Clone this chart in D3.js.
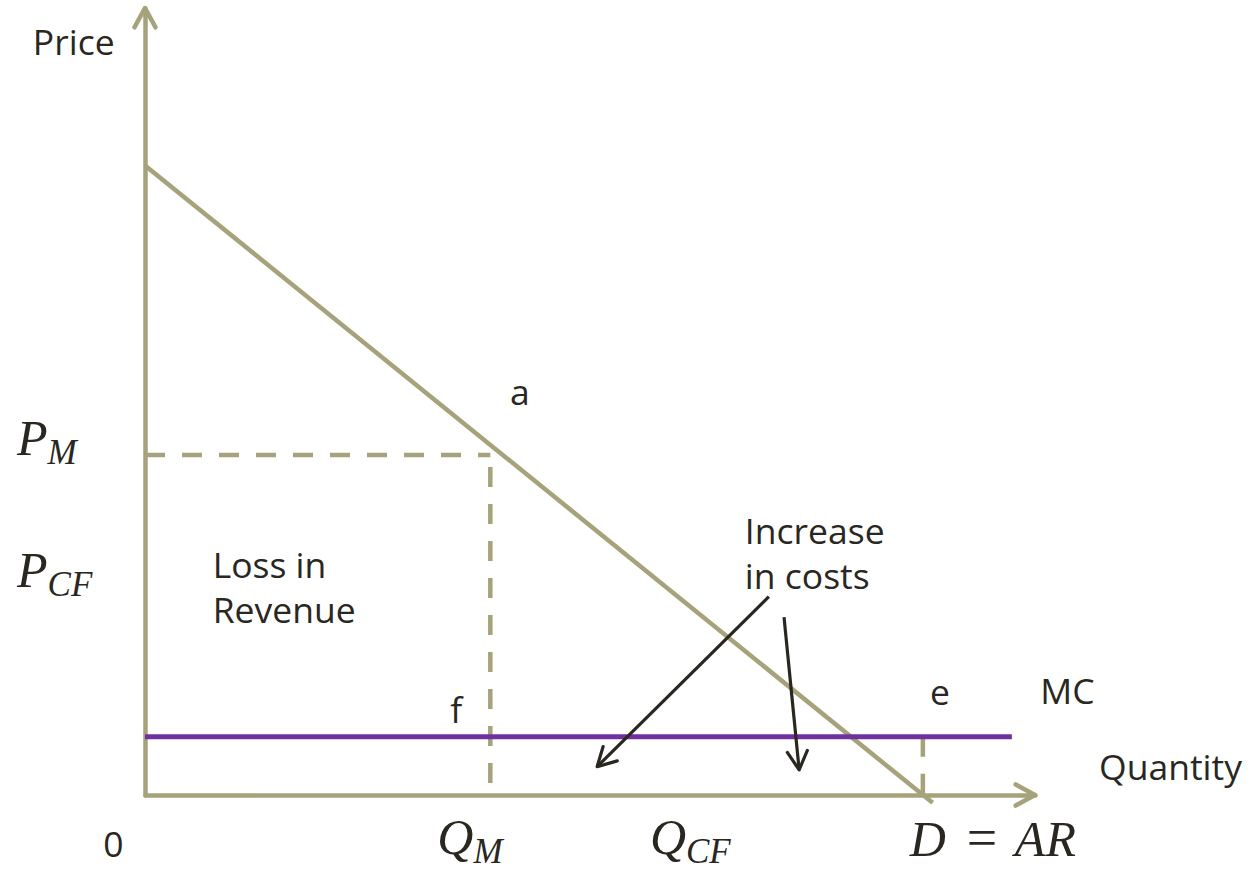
<!DOCTYPE html>
<html>
<head>
<meta charset="utf-8">
<script src="https://cdn.jsdelivr.net/npm/d3@7/dist/d3.min.js"></script>
<style>
  html, body { margin: 0; padding: 0; background: #ffffff; }
  svg { display: block; }
  .lbl { font-family: "Open Sans", "Liberation Sans", sans-serif; font-size: 35.5px; fill: #29271f; }
  .math { font-family: "Liberation Serif", "DejaVu Serif", serif; font-style: italic; font-size: 50px; fill: #29271f; }
  .math .sub { font-size: 35px; }
  .op { font-family: "Liberation Serif", "DejaVu Serif", serif; font-size: 54px; fill: #29271f; }
</style>
</head>
<body>
<svg id="chart" width="1252" height="872"></svg>
<script>
// ---- model values (quantity on x, price on y, both 0..100 units) ----
const axisMax = [100, 100];              // quantity, price extents of the axes
const demandQ = [0, 88.5];               // demand (D = AR) line endpoints
const demandP = [80, -1];
const mcLevel = 7.4;                     // constant marginal cost
const mcSpan = [0, 97.4];
const monopolyQ = 38.8;                  // Q_M
const monopolyP = 43.2;                  // P_M
const competitiveP = 26.4;               // P_CF label level
const competitiveQ = 61;                 // Q_CF label position
const pointEQ = 87.4;                    // point e on MC
// "Increase in costs" arrows: [q0, p0, q1, p1]
const costArrows = [[70.1, 25.2, 50.8, 3.6], [71.8, 22.6, 73.5, 3.2]];
// plain text labels: [text, q, p]
const textLabels = [
  ["Price", -12.6, 94.0],
  ["0", -4.7, -7.9],
  ["a", 41.0, 49.6],
  ["f", 34.3, 9.1],
  ["e", 88.2, 11.4],
  ["MC", 100.6, 11.6],
  ["Quantity", 107.2, 1.9]
];
// two-line labels: [[line1, line2], q, p]
const blockLabels = [
  [["Loss in", "Revenue"], 7.6, 27.6],
  [["Increase", "in costs"], 67.4, 31.9]
];

const olive = "#a6a27b";
const purple = "#7030a0";
const ink = "#29271f";

const svg = d3.select("#chart");
const x = d3.scaleLinear().domain([0, axisMax[0]]).range([145, 1035]);
const y = d3.scaleLinear().domain([0, axisMax[1]]).range([795, 8]);

// open chevron arrow head at (tx,ty) pointing along direction from (fx,fy)
function chevron(g, fx, fy, tx, ty, len, ang, color, width) {
  const a = Math.atan2(ty - fy, tx - fx);
  const pts = [a + Math.PI - ang, a + Math.PI + ang].map(t => [tx + len * Math.cos(t), ty + len * Math.sin(t)]);
  g.append("path")
    .attr("d", `M${pts[0][0]},${pts[0][1]}L${tx},${ty}L${pts[1][0]},${pts[1][1]}`)
    .attr("fill", "none").attr("stroke", color).attr("stroke-width", width)
    .attr("stroke-linecap", "round").attr("stroke-linejoin", "round");
}

// axes: bare domain lines with arrow heads
const gx = svg.append("g").attr("transform", `translate(0,${y(0)})`)
  .call(d3.axisBottom(x).tickValues([]).tickSizeOuter(0));
const gy = svg.append("g").attr("transform", `translate(${x(0)},0)`)
  .call(d3.axisLeft(y).tickValues([]).tickSizeOuter(0));
[gx, gy].forEach(g => g.select(".domain")
  .attr("stroke", olive).attr("stroke-width", 4.5).attr("stroke-linecap", "round"));
chevron(svg, x(0), y(0), x(axisMax[0]), y(0), 22, 0.5, olive, 4.5);
chevron(svg, x(0), y(0), x(0), y(axisMax[1]), 22, 0.5, olive, 4.5);

const line = d3.line().x(d => x(d[0])).y(d => y(d[1]));

// demand curve
svg.append("path")
  .attr("d", line(demandQ.map((q, i) => [q, demandP[i]])))
  .attr("fill", "none").attr("stroke", olive).attr("stroke-width", 4.5);

// dashed guides at the monopoly point and at e
const dash = "20,17";
svg.append("path").attr("d", line([[0, monopolyP], [monopolyQ, monopolyP]]))
  .attr("fill", "none").attr("stroke", olive).attr("stroke-width", 4.5).attr("stroke-dasharray", dash);
svg.append("path").attr("d", line([[monopolyQ, monopolyP], [monopolyQ, 0]]))
  .attr("fill", "none").attr("stroke", olive).attr("stroke-width", 4.5)
  .attr("stroke-dasharray", dash).attr("stroke-dashoffset", -12);
svg.append("path").attr("d", line([[pointEQ, mcLevel], [pointEQ, 0]]))
  .attr("fill", "none").attr("stroke", olive).attr("stroke-width", 4.5).attr("stroke-dasharray", dash);

// marginal cost
svg.append("path").attr("d", line([[mcSpan[0], mcLevel], [mcSpan[1], mcLevel]]))
  .attr("fill", "none").attr("stroke", purple).attr("stroke-width", 5);

// cost arrows
costArrows.forEach(([q0, p0, q1, p1]) => {
  svg.append("path").attr("d", line([[q0, p0], [q1, p1]]))
    .attr("fill", "none").attr("stroke", ink).attr("stroke-width", 3.2);
  chevron(svg, x(q0), y(p0), x(q1), y(p1), 21, 0.5, ink, 3.2);
});

// text labels
textLabels.forEach(([t, q, p]) => {
  svg.append("text").attr("class", "lbl").attr("x", x(q)).attr("y", y(p)).text(t);
});
blockLabels.forEach(([lines, q, p]) => {
  const t = svg.append("text").attr("class", "lbl").attr("x", x(q)).attr("y", y(p));
  lines.forEach((s, i) => t.append("tspan").attr("x", x(q)).attr("dy", i ? 45 : 0).text(s));
});

// math labels with subscripts
function mathLabel(px, py, main, sub) {
  const t = svg.append("text").attr("class", "math").attr("x", px).attr("y", py);
  t.append("tspan").text(main);
  if (sub) t.append("tspan").attr("class", "sub").attr("dy", 9).text(sub);
}
mathLabel(17, y(monopolyP), "P", "M");
mathLabel(17, y(competitiveP), "P", "CF");
mathLabel(x(monopolyQ) - 53, 854, "Q", "M");
mathLabel(x(competitiveQ) - 38, 854, "Q", "CF");

// D = AR under the demand intercept, spaced like an equation
const dx0 = x(pointEQ) - 13;
mathLabel(dx0, 856, "D", null);
svg.append("text").attr("class", "op").attr("x", dx0 + 72).attr("y", 856)
  .attr("text-anchor", "middle").text("=");
mathLabel(dx0 + 105, 856, "AR", null);
</script>
</body>
</html>
